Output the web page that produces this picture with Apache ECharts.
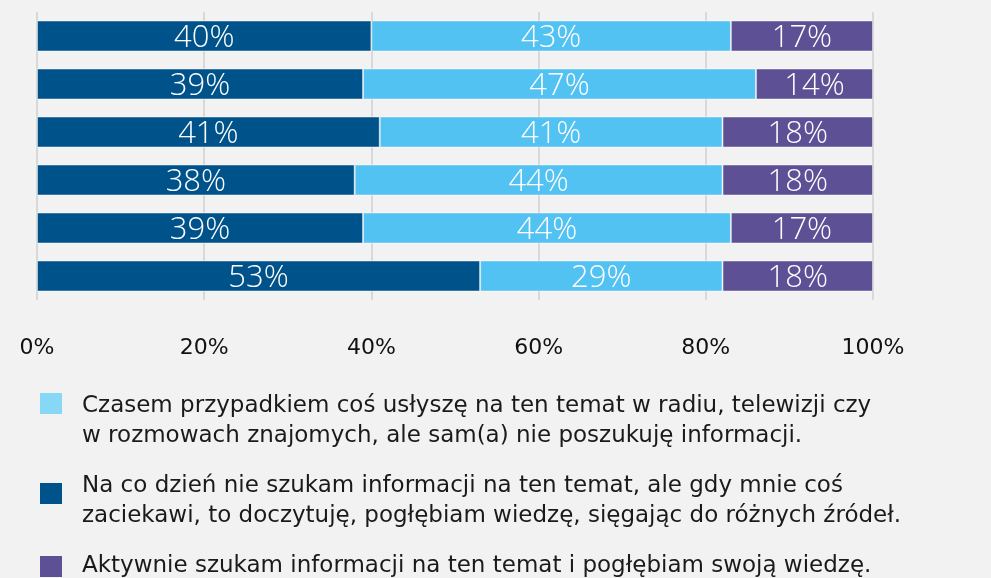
<!DOCTYPE html>
<html>
<head>
<meta charset="utf-8">
<script src="https://cdn.jsdelivr.net/npm/echarts@6/dist/echarts.min.js"></script>
<style>
  html, body { margin: 0; padding: 0; background: #f2f2f2; }
  #main { width: 991px; height: 578px; }
</style>
</head>
<body>
<div id="main"></div>
<script>
// rows top to bottom (no labels shown in the chart)
const categories = ["1", "2", "3", "4", "5", "6"];
const seriesNames = [
  "Na co dzień nie szukam informacji na ten temat, ale gdy mnie coś\nzaciekawi, to doczytuję, pogłębiam wiedzę, sięgając do różnych źródeł.",
  "Czasem przypadkiem coś usłyszę na ten temat w radiu, telewizji czy\nw rozmowach znajomych, ale sam(a) nie poszukuję informacji.",
  "Aktywnie szukam informacji na ten temat i pogłębiam swoją wiedzę."
];
const sometimesValues = [40, 39, 41, 38, 39, 53];
const occasionallyValues = [43, 47, 41, 44, 44, 29];
const activeValues = [17, 14, 18, 18, 17, 18];
const xTicks = [0, 20, 40, 60, 80, 100];

const colors = ["#00538a", "#52c2f2", "#5e5094"];
const labelFont = "Open Sans";
const textFont = "DejaVu Sans";

let myChart = echarts.init(document.getElementById("main"));

function barSeries(name, data, color) {
  return {
    name: name,
    type: "bar",
    stack: "total",
    barWidth: 31,
    data: data,
    itemStyle: { color: color, borderColor: "rgba(255,255,255,0.45)", borderWidth: 1 },
    label: {
      show: true,
      position: "inside",
      formatter: "{c}%",
      color: "#ffffff",
      fontFamily: labelFont,
      fontWeight: 300,
      fontSize: 31,
      offset: [0, 2]
    }
  };
}

// gap = empty line above the text, so the icon sits next to the first line
function legendAt(name, top, gap, iconColor) {
  let style = { borderWidth: 0 };
  if (iconColor) style.color = iconColor;
  return {
    data: [{ name: name, itemStyle: style }],
    left: 40,
    top: top,
    padding: 0,
    itemWidth: 22,
    itemHeight: 21,
    icon: "rect",
    selectedMode: false,
    itemStyle: { borderWidth: 0 },
    formatter: (n) => {
      let lines = n.split("\n").map((l) => "{t|" + l + "}");
      return (gap ? "{g| }\n" : "") + lines.join("\n");
    },
    textStyle: {
      padding: [0, 0, 0, 15],
      rich: {
        t: { fontFamily: textFont, fontSize: 23, color: "#1a1a1a", lineHeight: 30 },
        g: { fontSize: 1, lineHeight: gap || 1 }
      }
    }
  };
}

let options = {
  backgroundColor: "#f2f2f2",
  animation: false,
  grid: { left: 37, right: 118, top: 12, height: 288, containLabel: false },
  xAxis: {
    type: "value",
    min: 0,
    max: 100,
    interval: 20,
    axisLine: { show: false },
    axisTick: { show: false },
    splitLine: { show: true, lineStyle: { color: "#d9d9d9", width: 2 } },
    axisLabel: {
      margin: 37,
      fontFamily: textFont,
      fontSize: 22,
      color: "#111111",
      formatter: (v) => (xTicks.includes(v) ? v + "%" : "")
    }
  },
  yAxis: {
    type: "category",
    data: categories,
    inverse: true,
    show: false
  },
  legend: [
    legendAt(seriesNames[1], 373, 36, "#87d7f7"),
    legendAt(seriesNames[0], 463, 16),
    legendAt(seriesNames[2], 555, 0)
  ],
  series: [
    barSeries(seriesNames[0], sometimesValues, colors[0]),
    barSeries(seriesNames[1], occasionallyValues, colors[1]),
    barSeries(seriesNames[2], activeValues, colors[2])
  ]
};
myChart.setOption(options);
</script>
</body>
</html>
